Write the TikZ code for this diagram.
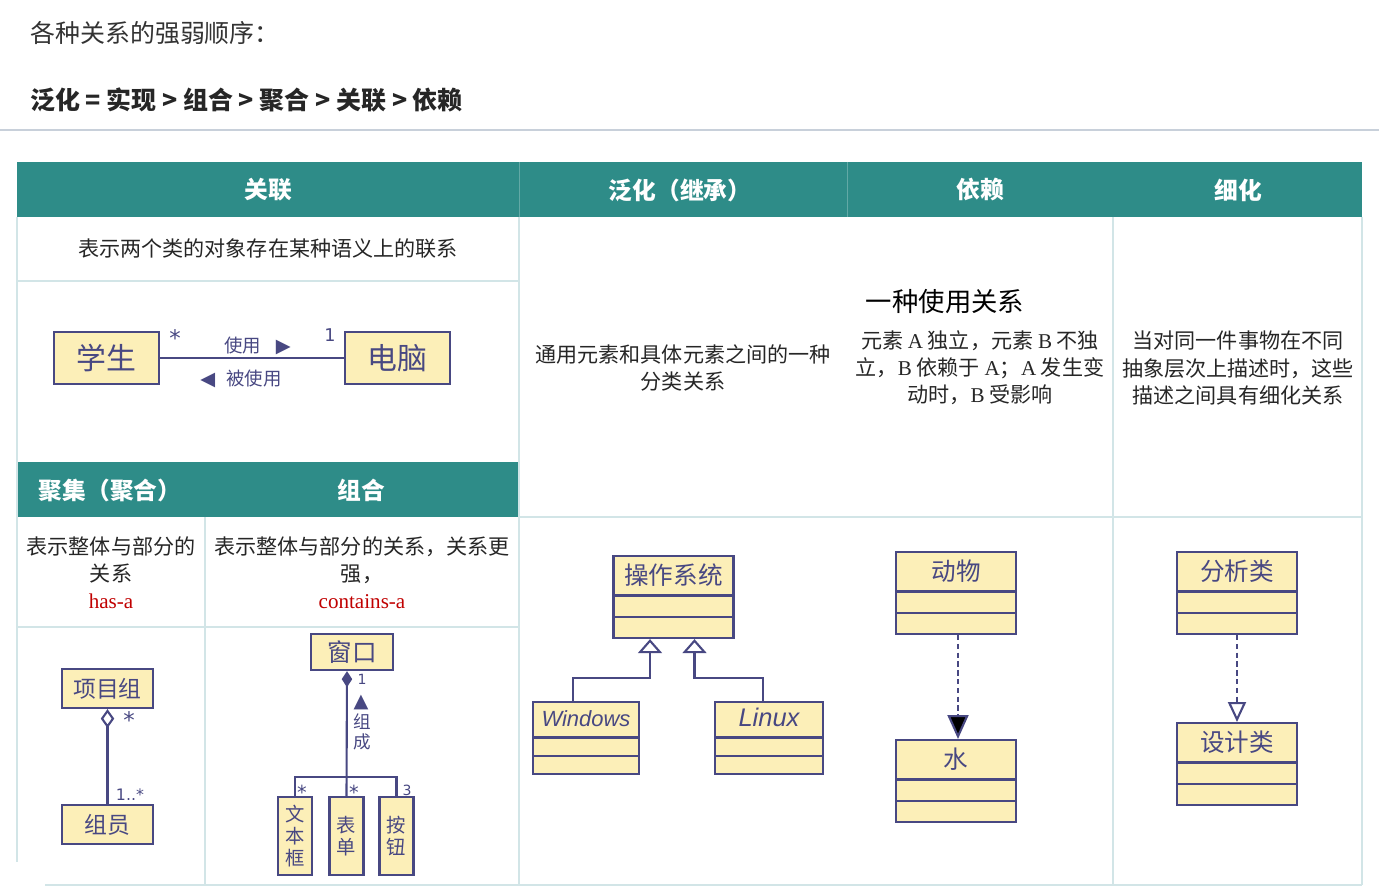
\documentclass[tikz,border=0pt]{standalone}
\usepackage{fontspec}
\setmainfont{Liberation Serif}
\newfontfamily\cjk{Noto Sans CJK SC}
\newfontfamily\symf{DejaVu Sans}
\newfontfamily\latin{Liberation Sans}
\usetikzlibrary{shapes.multipart,arrows.meta,positioning,calc}
\definecolor{hdteal}{HTML}{2E8C88}
\definecolor{gridc}{HTML}{D2E5E7}
\definecolor{umlblue}{HTML}{484882}
\definecolor{umlfill}{HTML}{FCEFB8}
\definecolor{sepc}{HTML}{C8D0DA}
\definecolor{redc}{HTML}{C00000}
\newcommand{\umltxt}[3]{\rule[-0.2cm]{0pt}{#2}#1\nodepart{two}\rule{0pt}{#3}\nodepart{three}\rule{0pt}{#3}}

\begin{document}
\begin{tikzpicture}[x=0.02cm,y=-0.02cm,>=Latex,
  hd/.style={text=white,inner sep=0pt,font=\cjk\bfseries\fontsize{13.5pt}{16pt}\selectfont},
  desc/.style={align=center,text=black!85,inner sep=0pt,font=\cjk\fontsize{12pt}{15.4pt}\selectfont},
  grid/.style={draw=gridc,line width=0.9pt},
  box/.style={draw=umlblue,fill=umlfill,line width=1.3pt,text=umlblue,inner sep=0pt},
  cls/.style={box,rectangle split,rectangle split parts=3,minimum width=2.4cm,anchor=north,font=\cjk\fontsize{14pt}{16pt}\selectfont},
  uline/.style={draw=umlblue,line width=1.2pt},
  dashline/.style={dash pattern=on 3pt off 2pt},
  mult/.style={text=umlblue,inner sep=0pt,font=\symf\fontsize{13pt}{14pt}\selectfont},
  hand/.style={text=umlblue,inner sep=0pt,font=\cjk\fontsize{10.5pt}{12pt}\selectfont}]
\useasboundingbox (0,0) rectangle (1379,895);

\node (title) [anchor=west,inner sep=0pt,text=black!80,font=\cjk\fontsize{14.2pt}{17pt}\selectfont] at (30,33) {各种关系的强弱顺序：};
\node (order) [anchor=west,inner sep=0pt,text=black!85,font=\cjk\bfseries\fontsize{14.2pt}{17pt}\selectfont] at (30,100) {泛化 = 实现 > 组合 > 聚合 > 关联 > 依赖};
\draw[sepc,line width=1.1pt] (0,130) -- (1379,130);

\fill[hdteal] (17,162) rectangle (1362,217);
\fill[hdteal] (17,462) rectangle (519,517);
\draw[hdteal!75!white,line width=0.5pt] (519,162) -- (519,217) (847,162) -- (847,217);
\draw[grid] (17,217) -- (17,862) (205,517) -- (205,885) (519,217) -- (519,885)
  (1113,217) -- (1113,885) (1362,217) -- (1362,885);
\draw[grid] (17,281) -- (519,281) (519,517) -- (1362,517) (17,627) -- (519,627) (45,885) -- (1362,885);

\node (h1) [hd] at (268,190) {关联};
\node (h2) [hd] at (680,190) {泛化（继承）};
\node (h3) [hd] at (980,190) {依赖};
\node (h4) [hd] at (1238,190) {细化};
\node (h5) [hd] at (110,490) {聚集（聚合）};
\node (h6) [hd] at (361,490) {组合};

\node (d1) [desc] at (268,249) {表示两个类的对象存在某种语义上的联系};
\node (d2) [desc] at (683,368) {通用元素和具体元素之间的一种\\分类关系};
\node (d3) [desc] at (980,368) {元素 {\rmfamily A} 独立，元素 {\rmfamily B} 不独\\立，{\rmfamily B} 依赖于 {\rmfamily A}；{\rmfamily A} 发生变\\动时，{\rmfamily B} 受影响};
\node (d4) [desc] at (1238,368) {当对同一件事物在不同\\抽象层次上描述时，这些\\描述之间具有细化关系};
\node (d5) [desc] at (111,573) {表示整体与部分的\\关系\\{\rmfamily\color{redc}has-a}};
\node (d6) [desc] at (362,573) {表示整体与部分的关系，关系更\\强，\\{\rmfamily\color{redc}contains-a}};
\node (note) [inner sep=0pt,font=\cjk\fontsize{15pt}{18pt}\selectfont] at (945,302) {一种使用关系};

% association
\node (stu) [box,minimum width=2.1cm,minimum height=1.04cm,font=\cjk\fontsize{17pt}{20pt}\selectfont] at (106.5,358) {学生};
\node (pc) [box,minimum width=2.1cm,minimum height=1.04cm,font=\cjk\fontsize{17pt}{20pt}\selectfont] at (397.5,358) {电脑};
\draw[uline] (stu) -- node[hand,pos=0.53,above=1pt] (use) {使用\hspace{0.8em}{\symf\fontsize{11pt}{12pt}\selectfont ▶}}
  node[hand,pos=0.44,below=6pt] (used) {{\symf\fontsize{11pt}{12pt}\selectfont ◀}\hspace{0.6em}被使用} (pc);
\node (m1) [mult] at (175,338) {*};
\node (m2) [mult,font=\symf\fontsize{10pt}{12pt}\selectfont] at (330,335) {1};

% aggregation
\node (grp) [box,minimum width=1.82cm,minimum height=0.78cm,font=\cjk\fontsize{13pt}{15pt}\selectfont] at (107.5,688.5) {项目组};
\node (mem) [box,minimum width=1.82cm,minimum height=0.78cm,font=\cjk\fontsize{13pt}{15pt}\selectfont] at (107.5,824.5) {组员};
\draw[uline,{Diamond[fill=white,length=0.38cm,width=0.27cm]}-] (grp.south) -- (mem.north);
\node (m3) [mult] at (129,720) {*};
\node (m4) [mult,font=\symf\fontsize{9pt}{10pt}\selectfont] at (130,795) {1..*};

% composition
\node (wnd) [box,minimum width=1.64cm,minimum height=0.72cm,font=\cjk\fontsize{14pt}{16pt}\selectfont] at (352,652) {窗口};
\node (tbox) [box,align=center,minimum width=0.68cm,minimum height=1.56cm,font=\cjk\fontsize{11pt}{12.5pt}\selectfont] at (295,836) {文\\本\\框};
\node (form) [box,align=center,minimum width=0.68cm,minimum height=1.56cm,font=\cjk\fontsize{11pt}{12.5pt}\selectfont] at (346.5,836) {表\\单};
\node (btn) [box,align=center,minimum width=0.68cm,minimum height=1.56cm,font=\cjk\fontsize{11pt}{12.5pt}\selectfont] at (396.5,836) {按\\钮};
\draw[uline,{Diamond[length=0.32cm,width=0.21cm]}-] ($(wnd.south)+(-5,0)$) -- (form.north);
\draw[uline] (tbox.north) -- ++(0,-19) -| (btn.north);
\node (m5) [mult,font=\symf\fontsize{8pt}{10pt}\selectfont] at (362,679) {1};
\node (tri) [mult,font=\symf\fontsize{11pt}{12pt}\selectfont] at (361,702) {▲};
\node (zc) [hand,align=center,font=\cjk\fontsize{10pt}{11.4pt}\selectfont] at (362,732) {组\\成};
\node (m6) [mult,font=\symf\fontsize{11pt}{12pt}\selectfont] at (302,792) {*};
\node (m7) [mult,font=\symf\fontsize{11pt}{12pt}\selectfont] at (354,792) {*};
\node (m8) [mult,font=\symf\fontsize{8pt}{10pt}\selectfont] at (407,790) {3};

% generalization
\node (os) [cls] at (673.5,555) {\umltxt{操作系统}{0.74cm}{0.38cm}};
\node (win) [cls,minimum width=2.12cm,font=\latin\itshape\fontsize{12.5pt}{15pt}\selectfont] at (586,701) {\umltxt{Windows}{0.66cm}{0.32cm}};
\node (lnx) [cls,minimum width=2.16cm,font=\latin\itshape\fontsize{14.5pt}{17pt}\selectfont] at (769,701) {\umltxt{Linux}{0.66cm}{0.32cm}};
\draw[uline,-{Triangle[fill=white,length=0.28cm,width=0.48cm]}] ($(win.north)+(-13,0)$) |- ($(os.south)+(-23.5,39)$) -- ($(os.south)+(-23.5,0)$);
\draw[uline,-{Triangle[fill=white,length=0.28cm,width=0.48cm]}] ($(lnx.north)+(-6,0)$) |- ($(os.south)+(21,39)$) -- ($(os.south)+(21,0)$);

% dependency
\node (ani) [cls] at (956,551) {\umltxt{动物}{0.74cm}{0.38cm}};
\node (wat) [cls] at (956,739) {\umltxt{水}{0.74cm}{0.38cm}};
\draw[uline,dashline,-{Triangle[length=0.48cm,width=0.42cm]}] ($(ani.south)+(2,0)$) -- ($(wat.north)+(2,0)$);

% refinement
\node (ana) [cls] at (1237,551) {\umltxt{分析类}{0.74cm}{0.38cm}};
\node (des) [cls] at (1237,722) {\umltxt{设计类}{0.74cm}{0.38cm}};
\draw[uline,dashline,-{Triangle[fill=white,length=0.4cm,width=0.36cm]}] (ana.south) -- (des.north);
\end{tikzpicture}
\end{document}
